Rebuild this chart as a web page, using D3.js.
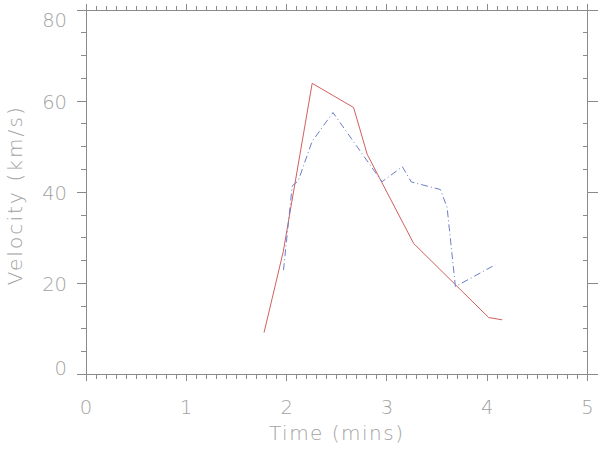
<!DOCTYPE html>
<html>
<head>
<meta charset="utf-8">
<script src="https://cdn.jsdelivr.net/npm/d3@7"></script>
<style>
  html, body { margin: 0; padding: 0; background: #fff; }
  svg { display: block; }
  text { font-family: "DejaVu Sans", sans-serif; font-weight: 200; fill: #a2a2a2; }
</style>
</head>
<body>
<svg id="chart" width="600" height="450"></svg>
<script>
// ---- data ----
const redTime = [1.775, 1.966, 2.255, 2.668, 2.804, 3.267, 4.015, 4.149];
const redVelocity = [9.2, 26.9, 63.9, 58.6, 48.3, 28.75, 12.5, 12.0];

const blueTime = [1.969, 2.056, 2.116, 2.253, 2.462, 2.951, 3.154, 3.244, 3.533, 3.600, 3.683, 4.082];
const blueVelocity = [22.9, 41.4, 42.5, 51.1, 57.5, 42.3, 45.6, 42.25, 40.6, 36.7, 19.3, 24.1];

const xMajorTicks = [0, 1, 2, 3, 4, 5];
const xTickLabels = ["0", "1", "2", "3", "4", "5"];
const yMajorTicks = [0, 20, 40, 60, 80];
const yTickLabels = ["0", "20", "40", "60", "80"];
const xTitle = "Time (mins)";
const yTitle = "Velocity (km/s)";

// ---- layout ----
const L = 86, R = 587.5, T = 10, B = 374.5;
const axisColor = "#8a8a8a";

const svg = d3.select("#chart");
const x = d3.scaleLinear().domain([0, 5]).range([L, R]);
const y = d3.scaleLinear().domain([0, 80]).range([B, T]);

const xMinor = d3.range(0, 51).map(i => i / 10).filter(v => !xMajorTicks.includes(v));
const yMinor = d3.range(0, 81, 5).filter(v => !yMajorTicks.includes(v));

const g = svg.append("g").attr("stroke", axisColor).attr("stroke-width", 1).attr("fill", "none");

// frame
g.append("rect").attr("x", L).attr("y", T).attr("width", R - L).attr("height", B - T)
  .attr("shape-rendering", "crispEdges");

const tickLine = (sel, data, fn) => sel.selectAll(null).data(data).enter().append("line").each(fn)
  .attr("shape-rendering", "crispEdges");

// bottom axis ticks (outward, down)
tickLine(g, xMajorTicks, function(d){ d3.select(this).attr("x1", x(d)).attr("x2", x(d)).attr("y1", B).attr("y2", B + 6); });
tickLine(g, xMinor, function(d){ d3.select(this).attr("x1", x(d)).attr("x2", x(d)).attr("y1", B).attr("y2", B + 4); });
// top axis ticks (outward, up)
tickLine(g, xMajorTicks, function(d){ d3.select(this).attr("x1", x(d)).attr("x2", x(d)).attr("y1", T).attr("y2", T - 6); });
tickLine(g, xMinor, function(d){ d3.select(this).attr("x1", x(d)).attr("x2", x(d)).attr("y1", T).attr("y2", T - 4); });
// left axis ticks (outward, left)
tickLine(g, yMajorTicks, function(d){ d3.select(this).attr("x1", L).attr("x2", L - 9.5).attr("y1", y(d)).attr("y2", y(d)); });
tickLine(g, yMinor, function(d){ d3.select(this).attr("x1", L).attr("x2", L - 5).attr("y1", y(d)).attr("y2", y(d)); });
// right axis ticks
tickLine(g, yMajorTicks, function(d){ d3.select(this).attr("x1", R).attr("x2", R + 10).attr("y1", y(d)).attr("y2", y(d)); });
tickLine(g, yMinor, function(d){ d3.select(this).attr("x1", R).attr("x2", R - 5).attr("y1", y(d)).attr("y2", y(d)); });

// tick labels
svg.append("g").selectAll("text").data(xMajorTicks).enter().append("text")
  .attr("x", d => x(d)).attr("y", 414).attr("text-anchor", "middle")
  .attr("font-size", 19.5).text((d, i) => xTickLabels[i]);

svg.append("g").selectAll("text").data(yMajorTicks).enter().append("text")
  .attr("x", 67).attr("y", d => Math.min(Math.max(y(d) + 8, T + 17), B))
  .attr("text-anchor", "end")
  .attr("font-size", 19.5).text((d, i) => yTickLabels[i]);

// axis titles
svg.append("text").attr("x", (L + R) / 2).attr("y", 440).attr("text-anchor", "middle")
  .attr("font-size", 20).attr("letter-spacing", 1.5).text(xTitle);

svg.append("text").attr("transform", "translate(22," + ((T + B) / 2 + 3) + ") rotate(-90)")
  .attr("text-anchor", "middle").attr("font-size", 20).attr("letter-spacing", 2.1).text(yTitle);

// series
const line = d3.line().x(d => x(d[0])).y(d => y(d[1]));

svg.append("path").datum(redTime.map((t, i) => [t, redVelocity[i]]))
  .attr("d", line).attr("fill", "none").attr("stroke", "#d06060").attr("stroke-width", 1);

svg.append("path").datum(blueTime.map((t, i) => [t, blueVelocity[i]]))
  .attr("d", line).attr("fill", "none").attr("stroke", "#6a80c8").attr("stroke-width", 1)
  .attr("stroke-dasharray", "7,3,1,3");
</script>
</body>
</html>
